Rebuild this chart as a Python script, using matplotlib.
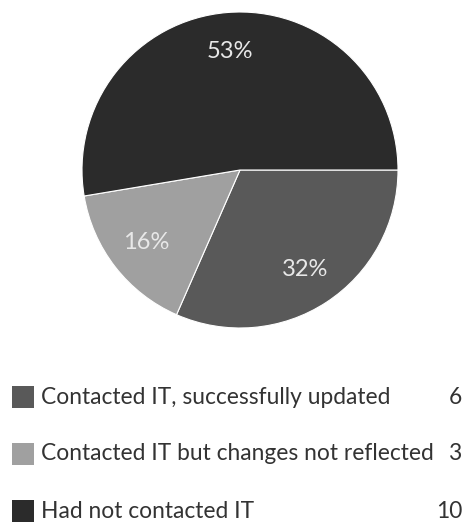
"""Pie chart of IT contact outcomes with a counted legend."""

import matplotlib.pyplot as plt
from matplotlib.patches import Rectangle

labels = ['Contacted IT, successfully updated',
          'Contacted IT but changes not reflected',
          'Had not contacted IT']
counts = [6, 3, 10]
colors = ['#595959', '#a0a0a0', '#2b2b2b']

W, H = 465, 525


def main():
    plt.rcParams['font.family'] = ['Lato', 'DejaVu Sans']
    fig = plt.figure(figsize=(W / 100, H / 100), dpi=100)

    # pie axes, centred at (240, 170) px with radius ~158 px
    cx, cy, r = 240, 170, 158
    ax = fig.add_axes([(cx - r) / W, 1 - (cy + r) / H, 2 * r / W, 2 * r / H])
    wedges, texts, autotexts = ax.pie(
        counts, colors=colors, startangle=0, counterclock=False,
        autopct=lambda p: '%d%%' % round(p), pctdistance=0.75,
        wedgeprops=dict(edgecolor='white', linewidth=0.8),
        textprops=dict(color='#e8e8e8', fontsize=17))
    ax.set_xlim(-1, 1)
    ax.set_ylim(-1, 1)
    ax.set_aspect('equal')

    # legend rows
    lax = fig.add_axes([0, 0, 1, 1])
    lax.set_xlim(0, W)
    lax.set_ylim(H, 0)
    lax.axis('off')
    for i, (lab, n, c) in enumerate(zip(labels, counts, colors)):
        y = 397 + i * 57
        lax.add_patch(Rectangle((12, y - 11), 22, 22, facecolor=c,
                                edgecolor='none'))
        lax.text(41, y, lab, fontsize=16.4, color='#333333', va='center')
        lax.text(462, y, str(n), fontsize=16.4, color='#333333', va='center',
                 ha='right')

    fig.savefig('out.png', dpi=100)


if __name__ == '__main__':
    main()
